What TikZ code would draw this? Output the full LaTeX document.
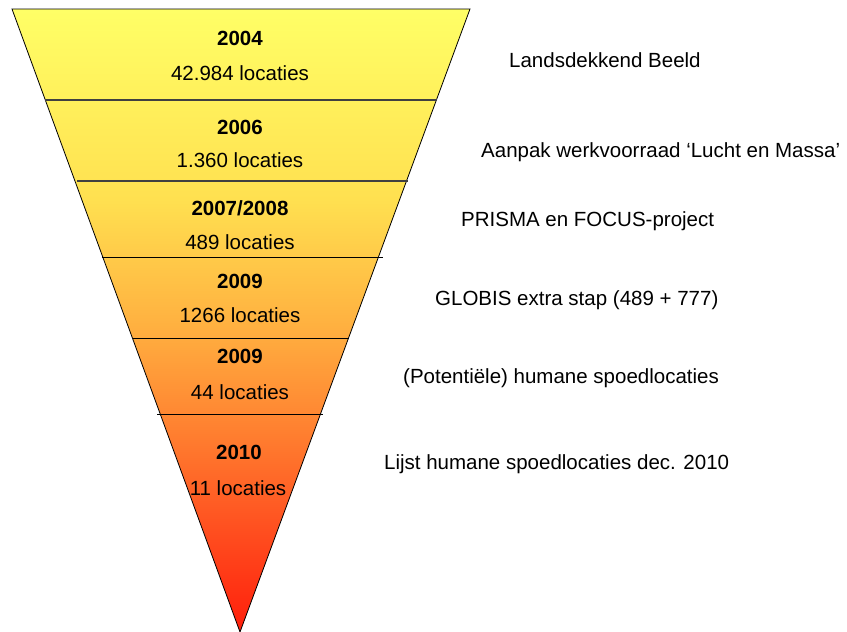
\documentclass[tikz,border=0pt]{standalone}
\usepackage{fontspec}
\setmainfont{Liberation Sans}
\usepackage{tikz}

\definecolor{funnelRed}{RGB}{255,30,10}
\definecolor{funnelA}{RGB}{255,42,16}
\definecolor{funnelB}{RGB}{255,80,32}
\definecolor{funnelC}{RGB}{255,128,48}
\definecolor{funnelD}{RGB}{255,176,64}
\definecolor{funnelE}{RGB}{255,224,80}
\definecolor{funnelYellow}{RGB}{255,255,102}

\pgfdeclareverticalshading{funnelshade}{100bp}{color(0bp)=(funnelRed); color(25bp)=(funnelRed);
  color(27bp)=(funnelA); color(33.4bp)=(funnelB); color(41.2bp)=(funnelC);
  color(49.5bp)=(funnelD); color(59.7bp)=(funnelE); color(75bp)=(funnelYellow);
  color(100bp)=(funnelYellow)}

\begin{document}
\begin{tikzpicture}[x=1pt,y=-1pt,
        year/.style = {font=\fontsize{20.5}{24}\selectfont\bfseries},
        amount/.style = {font=\fontsize{20.5}{24}\selectfont},
        phase/.style = {anchor=west, inner sep=0pt,
            font=\fontsize{20.5}{24}\selectfont},
        divider/.style = {line width=1.2pt, black!75}]

        \useasboundingbox (0,0) rectangle (847,632);

        % Funnel
        \coordinate (TL) at (12,9);
        \coordinate (TR) at (470,9);
        \coordinate (tip) at (240,632);
        \shade[shading=funnelshade] (TL) -- (TR) -- (tip) -- cycle;
        \draw[line width=0.8pt] (TL) -- (TR) -- (tip) -- cycle;

        % Band borders
        \draw[divider] (45,100) -- (437,100);
        \draw[divider] (77,181) -- (408,181);
        \draw[line width=0.9pt] (102,257) -- (383,257);
        \draw[line width=0.9pt] (133,338) -- (349,338);
        \draw[line width=0.9pt] (157,414) -- (323,414);

        % Years and counts
        \node[year] (y2004) at (240,38) {2004};
        \node[amount] (n2004) at (240,73) {42.984 locaties};
        \node[year] (y2006) at (240,127) {2006};
        \node[amount] (n2006) at (240,160) {1.360 locaties};
        \node[year] (y2007) at (240,208) {2007/2008};
        \node[amount] (n2007) at (240,242) {489 locaties};
        \node[year] (y2009a) at (240,281) {2009};
        \node[amount] (n2009a) at (240,315) {1266 locaties};
        \node[year] (y2009b) at (240,356) {2009};
        \node[amount] (n2009b) at (240,392) {44 locaties};
        \node[year] (y2010) at (239,452) {2010};
        \node[amount] (n2010) at (238,488) {11 locaties};

        % Phases
        \node[phase] (p2004) at (509,60) {Landsdekkend Beeld};
        \node[phase] (p2006) at (481,152) {Aanpak werkvoorraad ‘Lucht en Massa’};
        \node[phase] (p2007) at (461,221) {PRISMA en FOCUS-project};
        \node[phase] (p2009a) at (435,300) {GLOBIS extra stap (489 + 777)};
        \node[phase] (p2009b) at (403,378) {(Potentiële) humane spoedlocaties};
        \node[phase] (p2010) at (384,464) {Lijst humane spoedlocaties dec. 2010};

    \end{tikzpicture}
\end{document}
